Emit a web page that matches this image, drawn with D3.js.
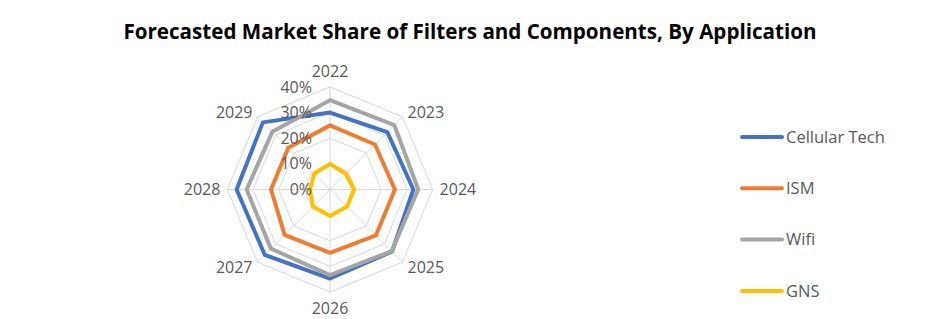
<!DOCTYPE html>
<html>
<head>
<meta charset="utf-8">
<script src="https://cdn.jsdelivr.net/npm/d3@7"></script>
<style>
  html, body { margin: 0; padding: 0; background: #fff; }
  svg { display: block; }
</style>
</head>
<body>
<svg id="chart" width="942" height="319"></svg>
<script>
// Forecast years around the radar
const years = ["2022", "2023", "2024", "2025", "2026", "2027", "2028", "2029"];
// Radial scale ticks (share, %)
const tickValues = [0, 10, 20, 30, 40];
const tickLabels = ["0%", "10%", "20%", "30%", "40%"];
// Series names, in legend order
const seriesNames = ["Cellular Tech", "ISM", "Wifi", "GNS"];
const seriesColors = ["#4472C4", "#ED7D31", "#A5A5A5", "#FFC000"];
// Market share per year (%)
const cellular = [30, 31.6, 32.5, 34.2, 34.7, 36, 36.4, 37];
const ism      = [25, 24.8, 25.3, 25.3, 24.7, 25, 23, 23];
const wifi     = [34.8, 35.5, 34.4, 34, 33.4, 32.6, 32.5, 31.8];
const gns      = [10, 8.7, 9.4, 9.4, 10.3, 9.4, 7.8, 8.7];
const seriesValues = [cellular, ism, wifi, gns];

const svg = d3.select("#chart");
const cx = 330, cy = 189.5, R = 102.6;

// Title
svg.append("text")
  .attr("x", 470).attr("y", 39)
  .attr("text-anchor", "middle")
  .style("font-family", "'Open Sans', sans-serif")
  .style("font-weight", "bold")
  .style("font-size", "20.6px")
  .style("fill", "#000")
  .text("Forecasted Market Share of Filters and Components,  By Application");

const r = d3.scaleLinear().domain([0, 40]).range([0, R]);
const angle = d3.scalePoint().domain(years).range([0, 2 * Math.PI * (years.length - 1) / years.length]);

const g = svg.append("g").attr("transform", `translate(${cx},${cy})`);

const pt = (yr, v) => {
  const a = angle(yr);
  return [Math.sin(a) * r(v), -Math.cos(a) * r(v)];
};

// Grid rings (octagons)
const ringLine = d3.line().curve(d3.curveLinearClosed);
g.selectAll(".ring").data(tickValues.filter(t => t > 0)).join("path")
  .attr("class", "ring")
  .attr("d", t => ringLine(years.map(y => pt(y, t))))
  .attr("fill", "none")
  .attr("stroke", "#D9D9D9")
  .attr("stroke-width", 1);

// Spokes
g.selectAll(".spoke").data(years).join("line")
  .attr("class", "spoke")
  .attr("x1", 0).attr("y1", 0)
  .attr("x2", y => pt(y, 40)[0]).attr("y2", y => pt(y, 40)[1])
  .attr("stroke", "#D9D9D9")
  .attr("stroke-width", 1);

// Series polygons
seriesValues.forEach((vals, i) => {
  g.append("path")
    .attr("d", ringLine(years.map((y, k) => pt(y, vals[k]))))
    .attr("fill", "none")
    .attr("stroke", seriesColors[i])
    .attr("stroke-width", 4)
    .attr("stroke-linejoin", "round");
});

// Radial tick labels
g.selectAll(".tick").data(tickValues).join("text")
  .attr("class", "tick")
  .attr("x", -18)
  .attr("y", t => -r(t))
  .attr("dy", "0.35em")
  .attr("text-anchor", "end")
  .style("font-family", "'Open Sans', sans-serif")
  .style("font-size", "16px")
  .style("fill", "#595959")
  .text((t, i) => tickLabels[i]);

// Year labels around the outside
g.selectAll(".yr").data(years).join("text")
  .attr("class", "yr")
  .each(function (y) {
    const a = angle(y);
    const sx = Math.sin(a), sy = -Math.cos(a);
    const d = R + 7;
    const x = sx * d, yy = sy * d;
    const el = d3.select(this);
    let anchor = "middle";
    if (sx > 0.1) anchor = "start";
    else if (sx < -0.1) anchor = "end";
    let dy = "0.35em";
    if (sy < -0.9) dy = "-0.2em";
    else if (sy > 0.9) dy = "0.95em";
    el.attr("x", x).attr("y", yy).attr("dy", dy).attr("text-anchor", anchor);
  })
  .style("font-family", "'Open Sans', sans-serif")
  .style("font-size", "16px")
  .style("fill", "#595959")
  .text(y => y);

// Legend
const legend = svg.append("g");
seriesNames.forEach((name, i) => {
  const ly = 137 + i * 51.3;
  legend.append("line")
    .attr("x1", 742).attr("x2", 782)
    .attr("y1", ly).attr("y2", ly)
    .attr("stroke", seriesColors[i])
    .attr("stroke-width", 4)
    .attr("stroke-linecap", "round");
  legend.append("text")
    .attr("x", 786).attr("y", ly)
    .attr("dy", "0.35em")
    .style("font-family", "'Open Sans', sans-serif")
    .style("font-size", "16.5px")
    .style("fill", "#595959")
    .text(name);
});
</script>
</body>
</html>
